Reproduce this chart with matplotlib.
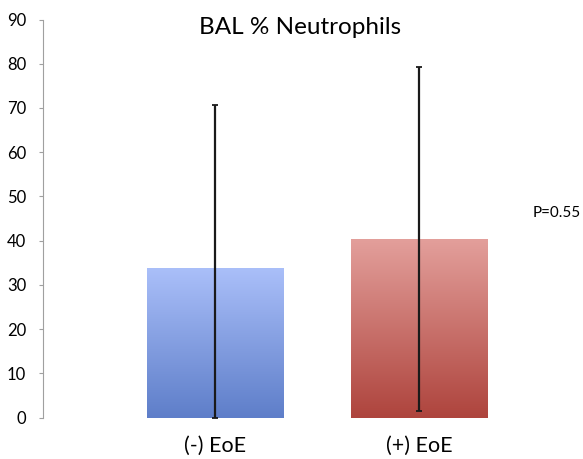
import matplotlib.pyplot as plt
import numpy as np
from matplotlib.colors import LinearSegmentedColormap

plt.rcParams['font.family'] = ['Lato', 'DejaVu Sans']

groups = ['(-) EoE', '(+) EoE']
means = [33.9, 40.4]
err_low = [33.9, 38.9]
err_high = [36.8, 38.8]
top_colors = ['#aabff9', '#e39f9b']
bottom_colors = ['#5e7ec9', '#ae443d']
p_text = 'P=0.55'

fig = plt.figure(figsize=(5.83, 4.59), dpi=100)
W, H = 583, 459
ax = fig.add_axes([43 / W, (H - 417.7) / H, (W - 43) / W, (417.7 - 19.5) / H])

x = np.arange(len(groups))
bars = ax.bar(x, means, width=0.667, color='none', edgecolor='none', zorder=1)

# vertical gradient inside each bar
grad = np.linspace(1, 0, 256).reshape(-1, 1)
for b, c_top, c_bot in zip(bars, top_colors, bottom_colors):
    cmap = LinearSegmentedColormap.from_list('g', [c_bot, c_top])
    x0, w, h = b.get_x(), b.get_width(), b.get_height()
    im = ax.imshow(grad, cmap=cmap, aspect='auto', extent=[x0, x0 + w, 0, h],
                   vmin=0, vmax=1, zorder=1)
    im.set_clip_path(b)

ax.errorbar(x, means, yerr=[err_low, err_high], fmt='none', ecolor='#1a1a1a',
            elinewidth=1.6, capsize=2, capthick=1.3, zorder=3)

ax.set_xlim(-0.843, 1.804)
ax.set_ylim(0, 90)
ax.set_yticks(range(0, 91, 10))
ax.set_xticks(x)
ax.set_xticklabels(groups, fontsize=15.5)
ax.tick_params(axis='x', length=0, pad=13)
ax.tick_params(axis='y', length=3, color='#a0a0a0', labelsize=12, pad=9)

for s in ['top', 'right', 'bottom']:
    ax.spines[s].set_visible(False)
ax.spines['left'].set_color('#a0a0a0')

fig.text(300 / W, 1 - 27 / H, 'BAL % Neutrophils', fontsize=17.5, ha='center', va='center')
fig.text(581 / W, 1 - 213 / H, p_text, fontsize=11, ha='right', va='center')

fig.savefig('out.png', dpi=100)
